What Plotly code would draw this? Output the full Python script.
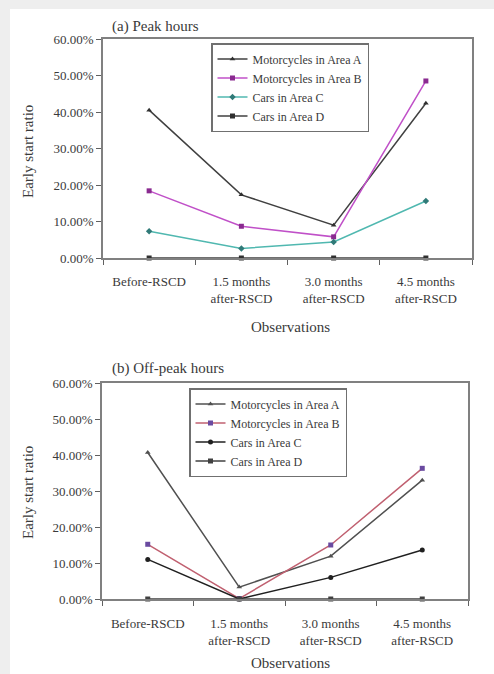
import plotly.graph_objects as go

categories = ["Before-RSCD", "1.5 months<br>after-RSCD", "3.0 months<br>after-RSCD", "4.5 months<br>after-RSCD"]
series_names = ["Motorcycles in Area A", "Motorcycles in Area B", "Cars in Area C", "Cars in Area D"]

peak_A = [0.405, 0.173, 0.090, 0.424]
peak_B = [0.184, 0.087, 0.058, 0.485]
peak_C = [0.073, 0.026, 0.044, 0.156]
peak_D = [0.0, 0.0, 0.0, 0.0]

off_A = [0.407, 0.033, 0.119, 0.330]
off_B = [0.152, 0.001, 0.150, 0.363]
off_C = [0.110, 0.0, 0.060, 0.136]
off_D = [0.0, 0.0, 0.0, 0.0]

y_ticks = [0, 0.1, 0.2, 0.3, 0.4, 0.5, 0.6]

FONT = "Liberation Serif, Times New Roman, serif"
TXT = "#3a3a3a"

fig = go.Figure()

peak_styles = [
    dict(line=dict(color="#404040", width=1.5), marker=dict(color="#303030", size=5, symbol="triangle-up")),
    dict(line=dict(color="#c050c8", width=1.5), marker=dict(color="#8a2a90", size=5, symbol="square")),
    dict(line=dict(color="#50b8b0", width=1.5), marker=dict(color="#307a78", size=5, symbol="diamond")),
    dict(line=dict(color="#404040", width=1.5), marker=dict(color="#303030", size=5, symbol="square")),
]
off_styles = [
    dict(line=dict(color="#505050", width=1.5), marker=dict(color="#505050", size=5, symbol="triangle-up")),
    dict(line=dict(color="#c06070", width=1.5), marker=dict(color="#6a4aa0", size=5, symbol="square")),
    dict(line=dict(color="#202020", width=1.5), marker=dict(color="#202020", size=5, symbol="circle")),
    dict(line=dict(color="#404040", width=1.5), marker=dict(color="#404040", size=5, symbol="square")),
]

for name, vals, st in zip(series_names, [peak_A, peak_B, peak_C, peak_D], peak_styles):
    fig.add_trace(go.Scatter(x=categories, y=vals, name=name, mode="lines+markers",
                             xaxis="x", yaxis="y", legend="legend", cliponaxis=False, **st))
for name, vals, st in zip(series_names, [off_A, off_B, off_C, off_D], off_styles):
    fig.add_trace(go.Scatter(x=categories, y=vals, name=name, mode="lines+markers",
                             xaxis="x2", yaxis="y2", legend="legend2", cliponaxis=False, **st))

W, H = 494, 674
def px(x): return x / W
def py(y): return 1 - y / H

axis_common = dict(showline=True, linecolor="#808080", linewidth=1.5, mirror=True,
                   showgrid=False, zeroline=False, ticks="outside", ticklen=5, automargin=False,
                   tickcolor="#606060", tickfont=dict(family=FONT, size=13, color=TXT))

title_font = dict(family=FONT, size=15, color=TXT)
legend_font = dict(family=FONT, size=12, color=TXT)

fig.update_layout(
    width=W, height=H,
    margin=dict(l=0, r=0, t=0, b=0, pad=0, autoexpand=False),
    paper_bgcolor="#eeeeee",
    plot_bgcolor="rgba(0,0,0,0)",
    font=dict(family=FONT, color=TXT),
    xaxis=dict(domain=[px(103), px(472)], anchor="y", type="category",
               range=[-0.5, 3.5], tickson="boundaries", ticklabelstandoff=11, **axis_common),
    yaxis=dict(domain=[py(258), py(39)], anchor="x", range=[0, 0.6],
               tickvals=y_ticks, tickformat=".2%", **axis_common),
    xaxis2=dict(domain=[px(102), px(468)], anchor="y2", type="category",
                range=[-0.5, 3.5], tickson="boundaries", ticklabelstandoff=12, **axis_common),
    yaxis2=dict(domain=[py(599), py(383)], anchor="x2", range=[0, 0.6],
                tickvals=y_ticks, tickformat=".2%", **axis_common),
    legend=dict(x=px(211), y=py(43), xanchor="left", yanchor="top",
                bgcolor="white", bordercolor="#707070", borderwidth=1.5,
                font=legend_font, itemwidth=30, tracegroupgap=0),
    legend2=dict(x=px(189), y=py(388), xanchor="left", yanchor="top",
                 bgcolor="white", bordercolor="#707070", borderwidth=1.5,
                 font=legend_font, itemwidth=30, tracegroupgap=0),
    shapes=[dict(type="rect", xref="paper", yref="paper", x0=px(10), x1=1.05, y0=-0.05, y1=py(9),
                 fillcolor="white", line=dict(width=0), layer="below")],
    annotations=[
        dict(text="(a) Peak hours", x=px(110), y=py(27), xref="paper", yref="paper",
             xanchor="left", yanchor="middle", showarrow=False, font=title_font),
        dict(text="(b) Off-peak hours", x=px(110), y=py(368), xref="paper", yref="paper",
             xanchor="left", yanchor="middle", showarrow=False, font=title_font),
        dict(text="Early start ratio", x=px(28), y=py(152), xref="paper", yref="paper",
             xanchor="center", yanchor="middle",
             textangle=-90, showarrow=False, font=title_font),
        dict(text="Early start ratio", x=px(28), y=py(493), xref="paper", yref="paper",
             xanchor="center", yanchor="middle",
             textangle=-90, showarrow=False, font=title_font),
        dict(text="Observations", x=px(290), y=py(327), xref="paper", yref="paper",
             xanchor="center", yanchor="middle", showarrow=False, font=title_font),
        dict(text="Observations", x=px(290), y=py(673), xref="paper", yref="paper",
             xanchor="center", yanchor="bottom", showarrow=False, font=title_font),
    ],
)

fig.write_html("out.html", config={"displayModeBar": False},
               post_script="document.body.style.margin='0';document.body.style.overflow='hidden';")
